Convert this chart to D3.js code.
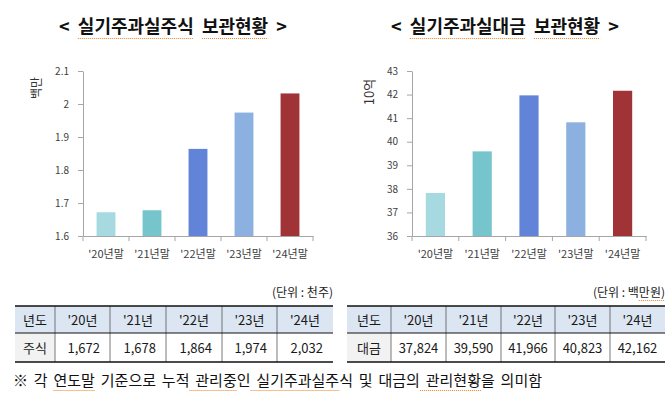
<!DOCTYPE html>
<html><head><meta charset="utf-8">
<script src="https://cdn.jsdelivr.net/npm/d3@7"></script>
<style>
html,body{margin:0;padding:0;background:#fff;}
svg text{font-family:"Noto Sans CJK KR","Noto Sans",sans-serif;}
</style></head>
<body><svg id="c" width="670" height="399"></svg>
<script>
// ---- data ----
const categories = ["'20년말","'21년말","'22년말","'23년말","'24년말"];
const yearLabels = ["'20년","'21년","'22년","'23년","'24년"];
const stockValues = [1.672, 1.678, 1.864, 1.974, 2.032];      // 백만주
const cashValues = [37.824, 39.590, 41.966, 40.823, 42.162];   // 10억원
const stockTable = ["1,672","1,678","1,864","1,974","2,032"];
const cashTable = ["37,824","39,590","41,966","40,823","42,162"];
const stockTicks = [1.6, 1.7, 1.8, 1.9, 2.0, 2.1];
const cashTicks = [36, 37, 38, 39, 40, 41, 42, 43];
const barColors = ["#a6d9e0","#76c4cc","#6183d8","#8cb0e0","#a03336"];

const svg = d3.select("#c");
const AX = "#a6a6a6";

function underline(textSel, ranges){
  const node = textSel.node();
  const bb = node.getBBox();
  ranges.forEach(([a,b])=>{
    const x0 = node.getStartPositionOfChar(a).x;
    const x1 = node.getEndPositionOfChar(b).x;
    svg.append("line").attr("x1",x0).attr("x2",x1)
      .attr("y1",bb.y+bb.height+0.5).attr("y2",bb.y+bb.height+0.5)
      .attr("stroke","#e8822a").attr("stroke-width",1).attr("stroke-dasharray","1,1");
  });
}

function chart(o){
  const g = svg.append("g");
  const x = d3.scaleBand().domain(categories).range([o.x0,o.x1]).paddingInner(0.59).paddingOuter(0.295);
  const y = d3.scaleLinear().domain(o.domain).range([236,71]);
  // title
  const t = svg.append("text").attr("x",o.tx).attr("y",33).attr("text-anchor","middle")
    .attr("font-size",18).attr("font-weight","bold").attr("fill","#111")
    .attr("xml:space","preserve").text(o.title);
  underline(t, o.ul);
  // y axis
  const ya = g.append("g").attr("transform",`translate(${o.x0},0)`)
    .call(d3.axisLeft(y).tickValues(o.ticks).tickSize(5).tickSizeOuter(0).tickPadding(9).tickFormat(o.fmt));
  ya.select(".domain").attr("stroke",AX);
  ya.selectAll(".tick line").attr("stroke",AX);
  ya.selectAll("text").attr("fill","#404040").attr("font-size",10).attr("font-family","Arial,'Liberation Sans',sans-serif");
  // bars
  g.selectAll("rect").data(o.values).join("rect")
    .attr("x",(d,i)=>x(categories[i])).attr("width",x.bandwidth())
    .attr("y",d=>y(d)).attr("height",d=>y(o.domain[0])-y(d))
    .attr("fill",(d,i)=>barColors[i]);
  // x axis
  const xa = g.append("g").attr("transform","translate(0,236)")
    .call(d3.axisBottom(x).tickSize(0).tickPadding(14).tickSizeOuter(0));
  xa.select(".domain").attr("stroke",AX);
  xa.selectAll("text").attr("fill","#404040").attr("font-size",11);
  const bounds = categories.map(c=>x(c)-x.step()*x.paddingInner()/2).concat([o.x1]);
  bounds[0]=o.x0;
  g.selectAll(".bt").data(bounds).join("line").attr("class","bt")
    .attr("x1",d=>d).attr("x2",d=>d).attr("y1",236).attr("y2",241).attr("stroke",AX);
  // y label
  svg.append("text").attr("transform",`translate(${o.lx},${o.ly}) rotate(-90)`)
    .attr("text-anchor","middle").attr("dominant-baseline","central")
    .attr("font-size",o.lfs).attr("fill","#333").text(o.ylabel);
}

chart({x0:83,x1:313,domain:[1.6,2.1],ticks:stockTicks,values:stockValues,fmt:d3.format("~g"),
  title:"<  실기주과실주식  보관현황  >",tx:173,ul:[[3,9],[12,15]],ylabel:"백만",lx:35,ly:88,lfs:12});
chart({x0:412,x1:646,domain:[36,43],ticks:cashTicks,values:cashValues,fmt:d3.format("d"),
  title:"<  실기주과실대금  보관현황  >",tx:505,ul:[[3,9],[12,15]],ylabel:"10억",lx:368,ly:92,lfs:13});

// ---- tables ----
function table(o){
  const xs = o.cols; // boundaries
  const top=306, mid=333, bot=362;
  svg.append("rect").attr("x",xs[0]).attr("y",top).attr("width",xs[xs.length-1]-xs[0]).attr("height",mid-top).attr("fill","#dce6f2");
  svg.append("rect").attr("x",xs[0]).attr("y",mid).attr("width",xs[1]-xs[0]).attr("height",bot-mid).attr("fill","#f2f2f2");
  xs.slice(1,-1).forEach(v=>svg.append("line").attr("x1",v).attr("x2",v).attr("y1",top).attr("y2",bot).attr("stroke","#555").attr("stroke-width",0.8));
  [[top,1.6],[mid,1],[bot,1.6]].forEach(([yy,w])=>svg.append("line").attr("x1",xs[0]).attr("x2",xs[xs.length-1]).attr("y1",yy).attr("y2",yy).attr("stroke","#111").attr("stroke-width",w));
  const hdr = ["년도"].concat(yearLabels);
  hdr.forEach((h,i)=>svg.append("text").attr("x",(xs[i]+xs[i+1])/2).attr("y",325).attr("text-anchor","middle").attr("font-size",13).attr("fill","#1a1a1a").text(h));
  svg.append("text").attr("x",(xs[0]+xs[1])/2).attr("y",353).attr("text-anchor","middle").attr("font-size",13).attr("fill","#1a1a1a").text(o.rowName);
  o.values.forEach((v,i)=>{
    const t = svg.append("text").attr("y",353).attr("font-size",13).attr("fill","#1a1a1a").text(v);
    if(o.align==="end") t.attr("x",xs[i+2]-10).attr("text-anchor","end");
    else t.attr("x",(xs[i+1]+xs[i+2])/2).attr("text-anchor","middle");
  });
  const u = svg.append("text").attr("x",xs[xs.length-1]).attr("y",297).attr("text-anchor","end").attr("font-size",12).attr("fill","#222").text(o.unit);
  if(o.uul) underline(u,o.uul);
}
table({cols:[15,55,110,166,222,277,333],rowName:"주식",values:stockTable,align:"end",unit:"(단위 : 천주)"});
table({cols:[347,391,446,501,555,610,665],rowName:"대금",values:cashTable,align:"middle",unit:"(단위 : 백만원)",uul:[[7,9]]});

const fn = svg.append("text").attr("x",13).attr("y",386).attr("font-size",15).attr("fill","#111")
  .attr("word-spacing",2.5)
  .attr("xml:space","preserve").text("※ 각 연도말 기준으로 누적 관리중인 실기주과실주식 및 대금의 관리현황을 의미함");
underline(fn,[[4,6],[15,18],[20,26],[34,38]]);
</script></body></html>
